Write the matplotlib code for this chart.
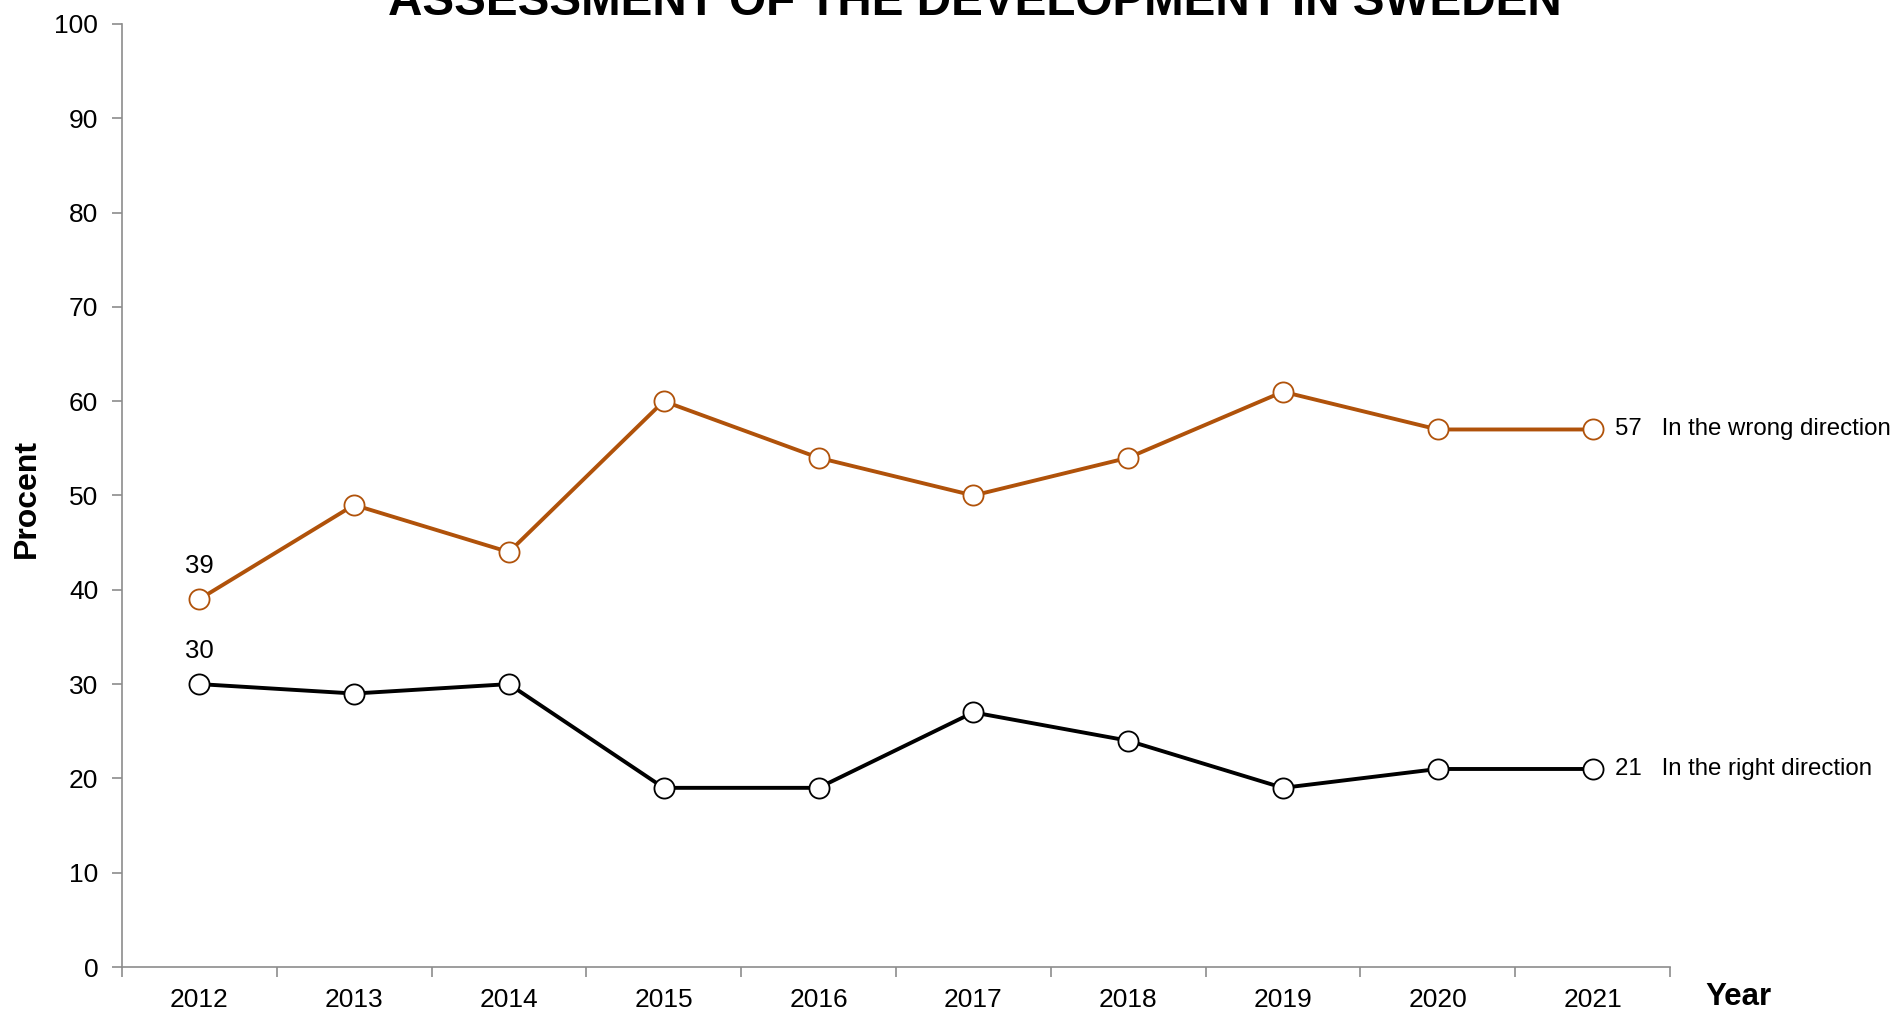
import matplotlib.pyplot as plt
import numpy as np

plt.rcParams['font.family'] = ['Liberation Sans', 'DejaVu Sans']

years = ["2012", "2013", "2014", "2015", "2016", "2017", "2018", "2019", "2020", "2021"]
wrong = [39, 49, 44, 60, 54, 50, 54, 61, 57, 57]
right = [30, 29, 30, 19, 19, 27, 24, 19, 21, 21]
wrong_label = "In the wrong direction"
right_label = "In the right direction"

ORANGE = "#B0520A"
GREY = "#8c8c8c"

fig = plt.figure(figsize=(18.99, 10.11), dpi=100)
ax = fig.add_axes([0.0642, 0.0435, 0.8152, 0.9328])

x = np.arange(len(years))
ax.plot(x, wrong, color=ORANGE, lw=2.8, marker="o", ms=14.5,
        mfc="white", mec=ORANGE, mew=1.3, zorder=3)
ax.plot(x, right, color="black", lw=2.8, marker="o", ms=14.5,
        mfc="white", mec="black", mew=1.3, zorder=3)

# first-year values above the points
ax.annotate(str(wrong[0]), (x[0], wrong[0]), xytext=(0, 24), textcoords="offset points",
            ha="center", va="center", fontsize=18.5)
ax.annotate(str(right[0]), (x[0], right[0]), xytext=(0, 24), textcoords="offset points",
            ha="center", va="center", fontsize=18.5)

# end labels
for vals, lab in [(wrong, wrong_label), (right, right_label)]:
    ax.annotate(f"{vals[-1]}   {lab}", (x[-1], vals[-1]), xytext=(16, 0),
                textcoords="offset points", ha="left", va="center",
                fontsize=17.3, annotation_clip=False)

ax.set_xlim(-0.5, len(years) - 0.5)
ax.set_ylim(0, 100)
ax.set_yticks(range(0, 101, 10))

ax.set_xticks(np.arange(-0.5, len(years), 1.0))
ax.set_xticklabels([])
ax.set_xticks(x, minor=True)
ax.set_xticklabels(years, minor=True)
ax.tick_params(axis="x", which="major", length=7, color=GREY, width=1.2)
ax.tick_params(axis="x", which="minor", length=0, pad=15, labelsize=19)
ax.tick_params(axis="y", length=7, color=GREY, width=1.2, labelsize=19, pad=10)

for side in ["top", "right"]:
    ax.spines[side].set_visible(False)
for side in ["left", "bottom"]:
    ax.spines[side].set_color(GREY)
    ax.spines[side].set_linewidth(1.2)

fig.text(0.0142, 0.507, "Procent", rotation=90, ha="center", va="center",
         fontsize=23, fontweight="bold")
fig.text(0.9155, 0.014, "Year", ha="center", va="center",
         fontsize=22.5, fontweight="bold")
fig.text(0.5135, 0.9855, "ASSESSMENT OF THE DEVELOPMENT IN SWEDEN", ha="center",
         va="baseline", fontsize=34.3, fontweight="bold")

fig.savefig("out.png", dpi=100)
